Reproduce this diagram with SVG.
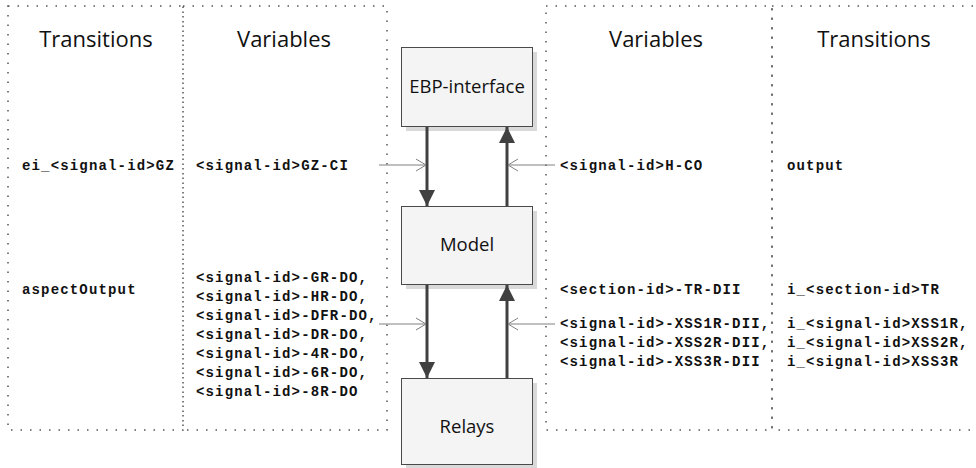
<svg xmlns="http://www.w3.org/2000/svg" width="976" height="468" viewBox="0 0 976 468">
<style>
.col{fill:none;stroke:#555;stroke-width:1.5;stroke-dasharray:1.5 8}
.hdr{font-family:"Open Sans","Liberation Sans",sans-serif;font-size:22px;fill:#111;text-anchor:middle}
.mono{font-family:"Liberation Mono","Courier New",monospace;font-size:14px;font-weight:bold;letter-spacing:1.16px;fill:#111}
.node rect.box{fill:#f4f4f4;stroke:#4a4a4a;stroke-width:1}
.node rect.sh{fill:#d9d9d9}
.node text{font-family:"Open Sans","Liberation Sans",sans-serif;font-size:18.5px;fill:#111;text-anchor:middle}
.thick{stroke:#404040;stroke-width:3;fill:none}
.thin{stroke:#808080;stroke-width:1;fill:none}
</style>
<defs>
<marker id="ah" markerUnits="userSpaceOnUse" markerWidth="16" markerHeight="16" viewBox="0 0 16 16" refX="16" refY="8" orient="auto">
<path d="M0,0 L16,8 L0,16 z" fill="#404040"/>
</marker>
<marker id="oh" markerUnits="userSpaceOnUse" markerWidth="12" markerHeight="14" viewBox="0 0 12 14" refX="11" refY="7" orient="auto">
<path d="M1,1 L11,7 L1,13" fill="none" stroke="#808080" stroke-width="1"/>
</marker>
</defs>
<rect width="976" height="468" fill="#fff"/>
<g id="columns">
<rect class="col" x="8" y="6" width="175" height="424"/>
<rect class="col" x="183" y="6" width="204" height="424"/>
<rect class="col" x="546" y="6" width="226" height="424"/>
<rect class="col" x="772" y="6" width="210" height="424"/>
<text class="hdr" x="96" y="47">Transitions</text>
<text class="hdr" x="284" y="47">Variables</text>
<text class="hdr" x="656" y="47">Variables</text>
<text class="hdr" x="874" y="47">Transitions</text>
</g>
<g id="labels">
<text class="mono" x="22" y="170">ei_&lt;signal-id&gt;GZ</text>
<text class="mono" x="22" y="294">aspectOutput</text>
<text class="mono" x="196" y="170">&lt;signal-id&gt;GZ-CI</text>
<text class="mono" x="196" y="282">&lt;signal-id&gt;-GR-DO,</text>
<text class="mono" x="196" y="301">&lt;signal-id&gt;-HR-DO,</text>
<text class="mono" x="196" y="320">&lt;signal-id&gt;-DFR-DO,</text>
<text class="mono" x="196" y="339">&lt;signal-id&gt;-DR-DO,</text>
<text class="mono" x="196" y="358">&lt;signal-id&gt;-4R-DO,</text>
<text class="mono" x="196" y="377">&lt;signal-id&gt;-6R-DO,</text>
<text class="mono" x="196" y="396">&lt;signal-id&gt;-8R-DO</text>
<text class="mono" x="560" y="170">&lt;signal-id&gt;H-CO</text>
<text class="mono" x="560" y="294">&lt;section-id&gt;-TR-DII</text>
<text class="mono" x="560" y="328">&lt;signal-id&gt;-XSS1R-DII,</text>
<text class="mono" x="560" y="347">&lt;signal-id&gt;-XSS2R-DII,</text>
<text class="mono" x="560" y="366">&lt;signal-id&gt;-XSS3R-DII</text>
<text class="mono" x="787" y="170">output</text>
<text class="mono" x="787" y="294">i_&lt;section-id&gt;TR</text>
<text class="mono" x="787" y="328">i_&lt;signal-id&gt;XSS1R,</text>
<text class="mono" x="787" y="347">i_&lt;signal-id&gt;XSS2R,</text>
<text class="mono" x="787" y="366">i_&lt;signal-id&gt;XSS3R</text>
</g>
<g id="ebp" class="node">
<rect class="sh" x="406" y="52" width="131" height="79"/>
<rect class="box" x="401.5" y="47.5" width="131" height="79"/>
<text x="467" y="93">EBP-interface</text>
</g>
<g id="model" class="node">
<rect class="sh" x="406" y="211" width="131" height="78"/>
<rect class="box" x="401.5" y="206.5" width="131" height="78"/>
<text x="467" y="251">Model</text>
</g>
<g id="relays" class="node">
<rect class="sh" x="406" y="383" width="131" height="87"/>
<rect class="box" x="401.5" y="378.5" width="131" height="86"/>
<text x="467" y="433">Relays</text>
</g>
<g id="connectors">
<line class="thick" x1="427" y1="127" x2="427" y2="206" marker-end="url(#ah)"/>
<line class="thick" x1="507" y1="206" x2="507" y2="127" marker-end="url(#ah)"/>
<line class="thick" x1="427" y1="285" x2="427" y2="378" marker-end="url(#ah)"/>
<line class="thick" x1="507" y1="378" x2="507" y2="285" marker-end="url(#ah)"/>
<line class="thin" x1="379" y1="165" x2="426" y2="165" marker-end="url(#oh)"/>
<line class="thin" x1="555" y1="165" x2="508" y2="165" marker-end="url(#oh)"/>
<line class="thin" x1="379" y1="324" x2="426" y2="324" marker-end="url(#oh)"/>
<line class="thin" x1="555" y1="324" x2="508" y2="324" marker-end="url(#oh)"/>
</g>
</svg>
